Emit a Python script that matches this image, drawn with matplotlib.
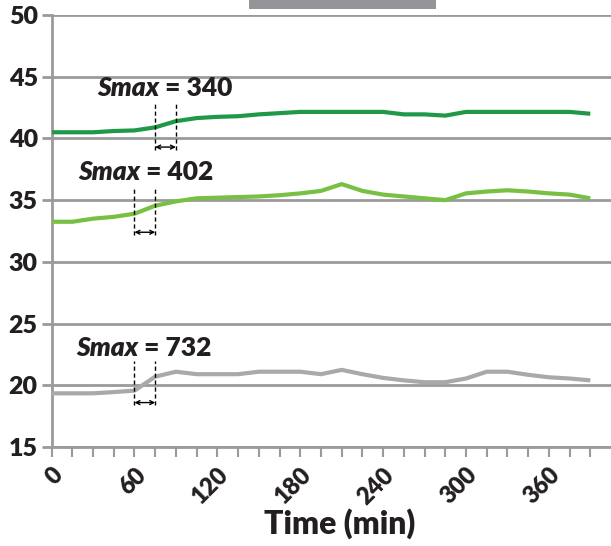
import matplotlib
matplotlib.use('Agg')
import matplotlib.pyplot as plt
from matplotlib.patches import Rectangle
from matplotlib.transforms import blended_transform_factory

plt.rcParams['font.family'] = ['Lato', 'DejaVu Sans']

# ============================================================
# 数据
# ============================================================
time_min = [0, 15, 30, 45, 60, 75, 90, 105, 120, 135, 150, 165, 180, 195,
            210, 225, 240, 255, 270, 285, 300, 315, 330, 345, 360, 375, 390]

dark_green = [40.5, 40.5, 40.5, 40.6, 40.65, 40.9, 41.4, 41.65, 41.75, 41.8,
              41.95, 42.05, 42.15, 42.15, 42.15, 42.15, 42.15, 41.95, 41.95,
              41.85, 42.15, 42.15, 42.15, 42.15, 42.15, 42.15, 42.0]
light_green = [33.25, 33.25, 33.5, 33.65, 33.9, 34.55, 34.9, 35.15, 35.2,
               35.25, 35.3, 35.4, 35.55, 35.75, 36.3, 35.75, 35.45, 35.3,
               35.15, 35.0, 35.55, 35.7, 35.8, 35.7, 35.55, 35.45, 35.15]
grey = [19.35, 19.35, 19.35, 19.45, 19.57, 20.7, 21.1, 20.9, 20.9, 20.9,
        21.1, 21.1, 21.1, 20.9, 21.25, 20.9, 20.6, 20.4, 20.25, 20.25,
        20.55, 21.1, 21.1, 20.85, 20.65, 20.55, 20.4]

# Smax 标注：文字, 区间起止(min), 文字位置, 虚线上下, 箭头高度
smax_labels = ['340', '402', '732']
smax_span = [(75, 90), (60, 75), (60, 75)]
smax_text_pos = [(33, 44.1), (19, 37.3), (17.5, 23.0)]
smax_dash_y = [(39.1, 42.9), (32.2, 36.0), (18.4, 22.0)]
smax_arrow_y = [39.3, 32.4, 18.6]

light_period = (143, 278)   # 顶部灰条

xticks_major = [0, 60, 120, 180, 240, 300, 360]
yticks = [15, 20, 25, 30, 35, 40, 45, 50]

# ============================================================
# 绘图
# ============================================================
AX_GREY = '#9a9a9a'
TXT = '#231f20'

fig = plt.figure(figsize=(6.11, 5.46), dpi=100)
ax = fig.add_axes([0.0845, 0.1813, 0.9155, 0.7912])

ax.plot(time_min, dark_green, color='#1f9848', lw=3, solid_capstyle='butt', zorder=3)
ax.plot(time_min, light_green, color='#77c043', lw=3, solid_capstyle='butt', zorder=3)
ax.plot(time_min, grey, color='#a7a9ab', lw=3, solid_capstyle='butt', zorder=3)

ax.set_xlim(0, 405)
ax.set_ylim(15, 50)

ax.set_yticks(yticks)
ax.set_yticklabels([str(v) for v in yticks], fontsize=18, fontweight='heavy', color=TXT)
ax.set_xticks(xticks_major)
ax.set_xticks(time_min, minor=True)
ax.set_xticklabels([str(v) for v in xticks_major], fontsize=17, fontweight='heavy',
                   color=TXT, rotation=45, ha='right', va='top',
                   rotation_mode='anchor')
ax.tick_params(axis='x', which='both', direction='out', length=7, width=1.5,
               color=AX_GREY, pad=5)
ax.tick_params(axis='y', direction='out', length=7, width=2, color=AX_GREY, pad=3)

ax.grid(axis='y', color=AX_GREY, lw=2, zorder=1)
ax.set_axisbelow(True)
for side in ['top', 'right']:
    ax.spines[side].set_visible(False)
for side in ['left', 'bottom']:
    ax.spines[side].set_color(AX_GREY)
    ax.spines[side].set_linewidth(2)

ax.set_xlabel('Time (min)', fontsize=23, fontweight='heavy', color=TXT)
ax.xaxis.set_label_coords(0.515, -0.142)

# Smax 标注
for lab, (t1, t2), (tx, ty), (y0, y1), ay in zip(smax_labels, smax_span, smax_text_pos,
                                                  smax_dash_y, smax_arrow_y):
    for t in (t1, t2):
        ax.plot([t, t], [y0, y1], color='black', lw=1, ls=(0, (3, 2)), zorder=4)
    ax.annotate('', xy=(t2, ay), xytext=(t1, ay),
                arrowprops=dict(arrowstyle='<->', lw=1, color='black',
                                mutation_scale=7, shrinkA=0, shrinkB=0))
    t_obj = ax.text(tx, ty, 'Smax', fontsize=19, fontweight='heavy', style='italic',
                    color=TXT, ha='left', va='center')
    ax.annotate(' = ' + lab, xy=(1, 0.5), xycoords=t_obj, fontsize=19,
                fontweight='heavy', color=TXT, ha='left', va='center')

# 顶部灰条
trans = blended_transform_factory(ax.transData, fig.transFigure)
ax.add_patch(Rectangle((light_period[0], 1 - 9 / 546), light_period[1] - light_period[0],
                       9 / 546, transform=trans, color='#939598', clip_on=False, lw=0))

fig.savefig('out.png', dpi=100)
plt.close(fig)
